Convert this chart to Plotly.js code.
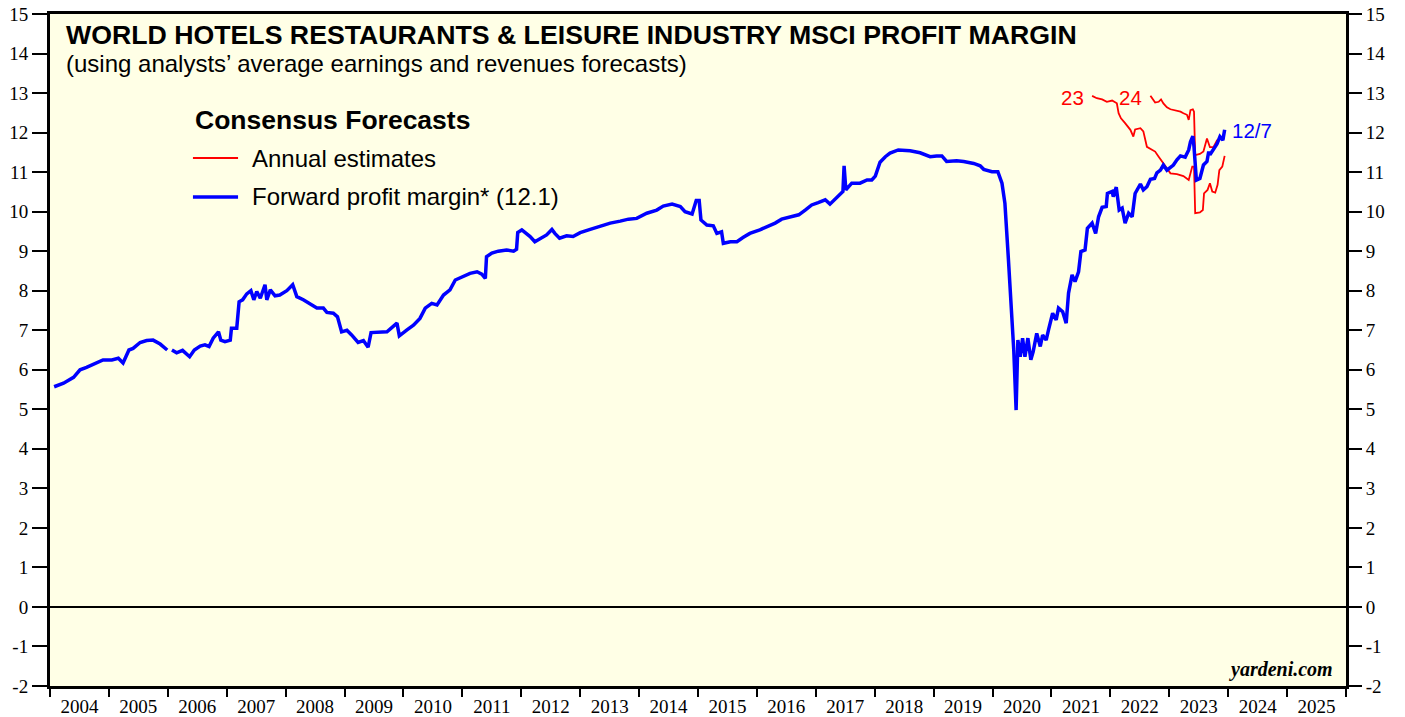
<!DOCTYPE html>
<html>
<head>
<meta charset="utf-8">
<script src="https://cdn.plot.ly/plotly-3.0.1.min.js"></script>
<style>html,body{margin:0;padding:0;background:#fff;}#chart{width:1405px;height:717px;}</style>
</head>
<body>
<div id="chart"></div>
<script>
// Forward profit margin (weekly, decimal years)
const fwdYears = [2004.07,2004.23,2004.40,2004.51,2004.62,2004.74,2004.90,2005.05,2005.16,2005.24,2005.34,2005.41,2005.53,2005.64,2005.75,2005.87,2005.99,2006.03,
2006.07,2006.15,2006.25,2006.37,2006.45,2006.55,2006.63,2006.70,2006.77,2006.86,2006.90,2006.97,2007.06,2007.08,2007.17,2007.21,2007.27,2007.34,2007.41,2007.46,2007.51,2007.57,2007.65,2007.68,2007.74,2007.82,2007.90,
2008.02,2008.12,2008.19,2008.30,2008.41,2008.53,2008.64,2008.70,2008.81,2008.88,2008.95,2009.04,2009.12,2009.23,2009.32,2009.40,2009.45,2009.57,2009.72,2009.89,2009.93,
2010.06,2010.17,2010.28,2010.37,2010.48,2010.57,2010.68,2010.79,2010.88,2011.02,2011.13,2011.25,2011.33,2011.39,2011.41,2011.50,2011.61,2011.75,2011.87,2011.92,2011.94,
2012.01,2012.09,2012.15,2012.23,2012.35,2012.43,2012.52,2012.57,2012.65,2012.77,2012.88,2013.00,2013.17,2013.34,2013.51,2013.68,2013.82,2013.96,
2014.13,2014.30,2014.41,2014.56,2014.70,2014.78,2014.90,2014.97,2015.02,2015.05,2015.15,2015.26,2015.32,2015.40,2015.43,2015.55,2015.66,2015.77,2015.88,
2016.05,2016.17,2016.31,2016.42,2016.56,2016.71,2016.82,2016.93,2017.04,2017.16,2017.24,2017.36,2017.46,2017.48,2017.51,2017.61,2017.75,2017.87,2017.95,
2018.01,2018.09,2018.18,2018.26,2018.40,2018.60,2018.77,2018.94,2019.05,2019.14,2019.22,2019.39,2019.51,2019.68,2019.79,2019.85,2019.99,
2020.09,2020.16,2020.21,2020.27,2020.30,2020.36,2020.40,2020.43,2020.47,2020.51,2020.55,2020.60,2020.65,2020.69,2020.75,2020.81,2020.85,2020.91,2020.95,
2021.02,2021.08,2021.12,2021.19,2021.25,2021.29,2021.35,2021.40,2021.46,2021.50,2021.57,2021.61,2021.69,2021.75,2021.80,2021.86,2021.93,2021.95,
2022.03,2022.05,2022.10,2022.15,2022.20,2022.25,2022.31,2022.37,2022.42,2022.51,2022.56,2022.62,2022.68,2022.75,2022.79,2022.85,2022.90,2022.96,
2023.07,2023.13,2023.19,2023.27,2023.33,2023.36,2023.40,2023.42,2023.46,2023.52,2023.58,2023.64,2023.67,2023.69,2023.75,2023.81,2023.86,2023.91,2023.94];
const fwdMargin = [5.57,5.66,5.81,6.00,6.06,6.14,6.25,6.25,6.29,6.17,6.50,6.54,6.69,6.74,6.75,6.65,6.50,null,
6.50,6.43,6.49,6.33,6.50,6.60,6.63,6.59,6.80,6.96,6.75,6.71,6.75,7.05,7.05,7.72,7.77,7.92,8.00,7.77,7.98,7.81,8.15,7.77,8.02,7.87,7.89,
8.00,8.15,7.85,7.77,7.68,7.56,7.56,7.45,7.43,7.34,6.96,7.00,6.88,6.69,6.74,6.57,6.94,6.94,6.96,7.18,6.86,
7.01,7.13,7.30,7.56,7.68,7.64,7.89,8.02,8.27,8.36,8.44,8.48,8.42,8.31,8.86,8.95,9.00,9.03,9.00,9.05,9.47,
9.54,9.45,9.37,9.24,9.34,9.41,9.55,9.45,9.33,9.39,9.37,9.47,9.55,9.64,9.71,9.76,9.81,9.83,
9.96,10.04,10.14,10.19,10.13,10.00,9.94,10.28,10.28,9.79,9.66,9.64,9.45,9.49,9.20,9.24,9.24,9.35,9.45,
9.54,9.61,9.71,9.81,9.87,9.92,10.04,10.17,10.23,10.30,10.19,10.38,10.51,11.16,10.55,10.72,10.72,10.80,10.80,
10.90,11.25,11.39,11.48,11.56,11.54,11.49,11.39,11.41,11.41,11.27,11.29,11.27,11.22,11.16,11.07,11.01,
11.01,10.72,10.21,8.78,8.02,6.50,4.98,6.75,6.33,6.80,6.33,6.80,6.25,6.46,6.92,6.59,6.88,6.75,7.01,
7.43,7.26,7.56,7.47,7.18,7.94,8.40,8.23,8.48,8.99,9.03,9.58,9.71,9.45,9.87,10.11,10.13,10.46,
10.51,10.38,10.62,10.04,10.09,9.71,9.96,9.87,10.46,10.70,10.55,10.63,10.82,10.84,10.98,11.05,11.18,11.05,
11.18,11.31,11.41,11.38,11.56,11.77,11.91,11.64,10.80,10.84,11.18,11.27,11.52,11.44,11.56,11.71,11.90,11.81,12.07];

// Annual estimates: 2023
const est23Years = [2021.69,2021.77,2021.86,2021.94,2022.03,2022.11,2022.14,2022.18,2022.25,2022.34,2022.39,2022.42,2022.51,2022.56,2022.62,2022.70,2022.76,2022.82,2022.90,2022.96,
2023.02,2023.13,2023.24,2023.33,2023.39,2023.42,2023.44,2023.52,2023.57,2023.59,2023.65,2023.69,2023.73,2023.78,2023.82,2023.85,2023.90,2023.94];
const est23Values = [12.93,12.87,12.84,12.78,12.81,12.74,12.49,12.36,12.24,12.07,11.90,12.08,12.11,12.03,11.64,11.56,11.52,11.39,11.24,11.10,
10.97,10.95,10.90,10.80,11.14,11.14,9.96,9.98,10.04,10.46,10.55,10.72,10.51,10.48,10.68,11.05,11.14,11.41];
// Annual estimates: 2024
const est24Years = [2022.68,2022.72,2022.76,2022.82,2022.86,2022.90,2022.96,2023.02,2023.10,2023.19,2023.24,2023.30,2023.33,2023.36,2023.40,2023.42,2023.44,2023.52,2023.58,2023.64,2023.69,2023.75,2023.81,2023.86];
const est24Values = [12.93,12.84,12.76,12.78,12.84,12.74,12.64,12.59,12.57,12.53,12.49,12.45,12.32,12.57,12.59,12.53,11.43,11.46,11.52,11.85,11.63,11.63,11.80,11.85];

const yearLabels = ['2004','2005','2006','2007','2008','2009','2010','2011','2012','2013','2014','2015','2016','2017','2018','2019','2020','2021','2022','2023','2024','2025'];
const yTicks = [-2,-1,0,1,2,3,4,5,6,7,8,9,10,11,12,13,14,15];
const yTickLabels = ['-2','-1','0','1','2','3','4','5','6','7','8','9','10','11','12','13','14','15'];

const yearStarts = yearLabels.map(Number).concat([Number(yearLabels[yearLabels.length-1]) + 1]);
const yearMids = yearLabels.map(y => Number(y) + 0.5);

const RED = '#FF0000', BLUE = '#0000FF';
const serif = 'Liberation Serif, Times New Roman, serif';
const sans = 'Liberation Sans, Arial, sans-serif';

const traces = [
  {x: est23Years, y: est23Values, type: 'scatter', mode: 'lines', line: {color: RED, width: 1.8}, name: 'Annual estimates', showlegend: false},
  {x: est24Years, y: est24Values, type: 'scatter', mode: 'lines', line: {color: RED, width: 1.8}, name: 'Annual estimates 2024', showlegend: false},
  {x: fwdYears, y: fwdMargin, type: 'scatter', mode: 'lines', line: {color: BLUE, width: 3.5}, connectgaps: false, name: 'Forward profit margin* (12.1)', showlegend: false},
  {x: [], y: [], xaxis: 'x2', yaxis: 'y2', type: 'scatter', mode: 'lines', showlegend: false, hoverinfo: 'skip'}
];

const axisRangeX = [2004, 2026];
const axisRangeY = [-2, 15];

const layout = {
  width: 1405, height: 717,
  margin: {l: 50, r: 59, t: 14, b: 31, pad: 0},
  paper_bgcolor: '#FFFFFF',
  plot_bgcolor: '#FFFFE6',
  showlegend: false,
  xaxis: {
    range: axisRangeX, tickmode: 'array', tickvals: yearStarts, showticklabels: false,
    ticks: 'outside', ticklen: 8, tickwidth: 2, tickcolor: '#000',
    showline: true, linewidth: 3, linecolor: '#000', mirror: true,
    showgrid: false, zeroline: false, fixedrange: true
  },
  xaxis2: {
    range: axisRangeX, overlaying: 'x', side: 'bottom', anchor: 'y2',
    tickmode: 'array', tickvals: yearMids, ticktext: yearLabels,
    ticks: 'outside', ticklen: 3, tickcolor: 'rgba(0,0,0,0)',
    tickfont: {family: serif, size: 19, color: '#000'},
    showline: false, showgrid: false, zeroline: false
  },
  yaxis: {
    range: axisRangeY, tickmode: 'array', tickvals: yTicks, ticktext: yTickLabels,
    ticks: 'outside', ticklen: 15, tickwidth: 2, tickcolor: '#000',
    tickfont: {family: serif, size: 19, color: '#000'},
    showline: true, linewidth: 3, linecolor: '#000', mirror: true,
    showgrid: false, zeroline: true, zerolinecolor: '#000', zerolinewidth: 1.2
  },
  yaxis2: {
    range: axisRangeY, overlaying: 'y', side: 'right', anchor: 'x2',
    tickmode: 'array', tickvals: yTicks, ticktext: yTickLabels,
    ticks: 'outside', ticklen: 15, tickwidth: 2, tickcolor: '#000',
    tickfont: {family: serif, size: 19, color: '#000'},
    showline: false, showgrid: false, zeroline: false
  },
  shapes: [
    {type: 'line', xref: 'paper', yref: 'paper', x0: 0.1103, x1: 0.1451, y0: 0.7857, y1: 0.7857, line: {color: RED, width: 1.8}},
    {type: 'line', xref: 'paper', yref: 'paper', x0: 0.1103, x1: 0.1451, y0: 0.7277, y1: 0.7277, line: {color: BLUE, width: 3.5}}
  ],
  annotations: [
    {xref: 'paper', yref: 'paper', x: 0.0108, y: 0.969, xanchor: 'left', yanchor: 'middle', showarrow: false,
     text: '<b>WORLD HOTELS RESTAURANTS &amp; LEISURE INDUSTRY MSCI PROFIT MARGIN</b>', font: {family: sans, size: 26.7, color: '#000'}},
    {xref: 'paper', yref: 'paper', x: 0.0108, y: 0.9256, xanchor: 'left', yanchor: 'middle', showarrow: false,
     text: '(using analysts’ average earnings and revenues forecasts)', font: {family: sans, size: 24, color: '#000'}},
    {xref: 'paper', yref: 'paper', x: 0.1105, y: 0.8423, xanchor: 'left', yanchor: 'middle', showarrow: false,
     text: '<b>Consensus Forecasts</b>', font: {family: sans, size: 26.5, color: '#000'}},
    {xref: 'paper', yref: 'paper', x: 0.1545, y: 0.7857, xanchor: 'left', yanchor: 'middle', showarrow: false,
     text: 'Annual estimates', font: {family: sans, size: 24, color: '#000'}},
    {xref: 'paper', yref: 'paper', x: 0.1545, y: 0.7277, xanchor: 'left', yanchor: 'middle', showarrow: false,
     text: 'Forward profit margin* (12.1)', font: {family: sans, size: 24, color: '#000'}},
    {x: 2021.35, y: 12.90, xref: 'x', yref: 'y', showarrow: false, text: '23', font: {family: sans, size: 20.5, color: RED}},
    {x: 2022.35, y: 12.90, xref: 'x', yref: 'y', showarrow: false, text: '24', font: {family: sans, size: 20.5, color: RED}},
    {x: 2024.41, y: 12.05, xref: 'x', yref: 'y', showarrow: false, text: '12/7', font: {family: sans, size: 20.5, color: BLUE}},
    {xref: 'paper', yref: 'paper', x: 0.9915, y: 0.024, xanchor: 'right', yanchor: 'middle', showarrow: false,
     text: '<b><i>yardeni.com</i></b>', font: {family: serif, size: 20, color: '#000'}}
  ]
};

Plotly.newPlot('chart', traces, layout, {staticPlot: true, displayModeBar: false});
</script>
</body>
</html>
